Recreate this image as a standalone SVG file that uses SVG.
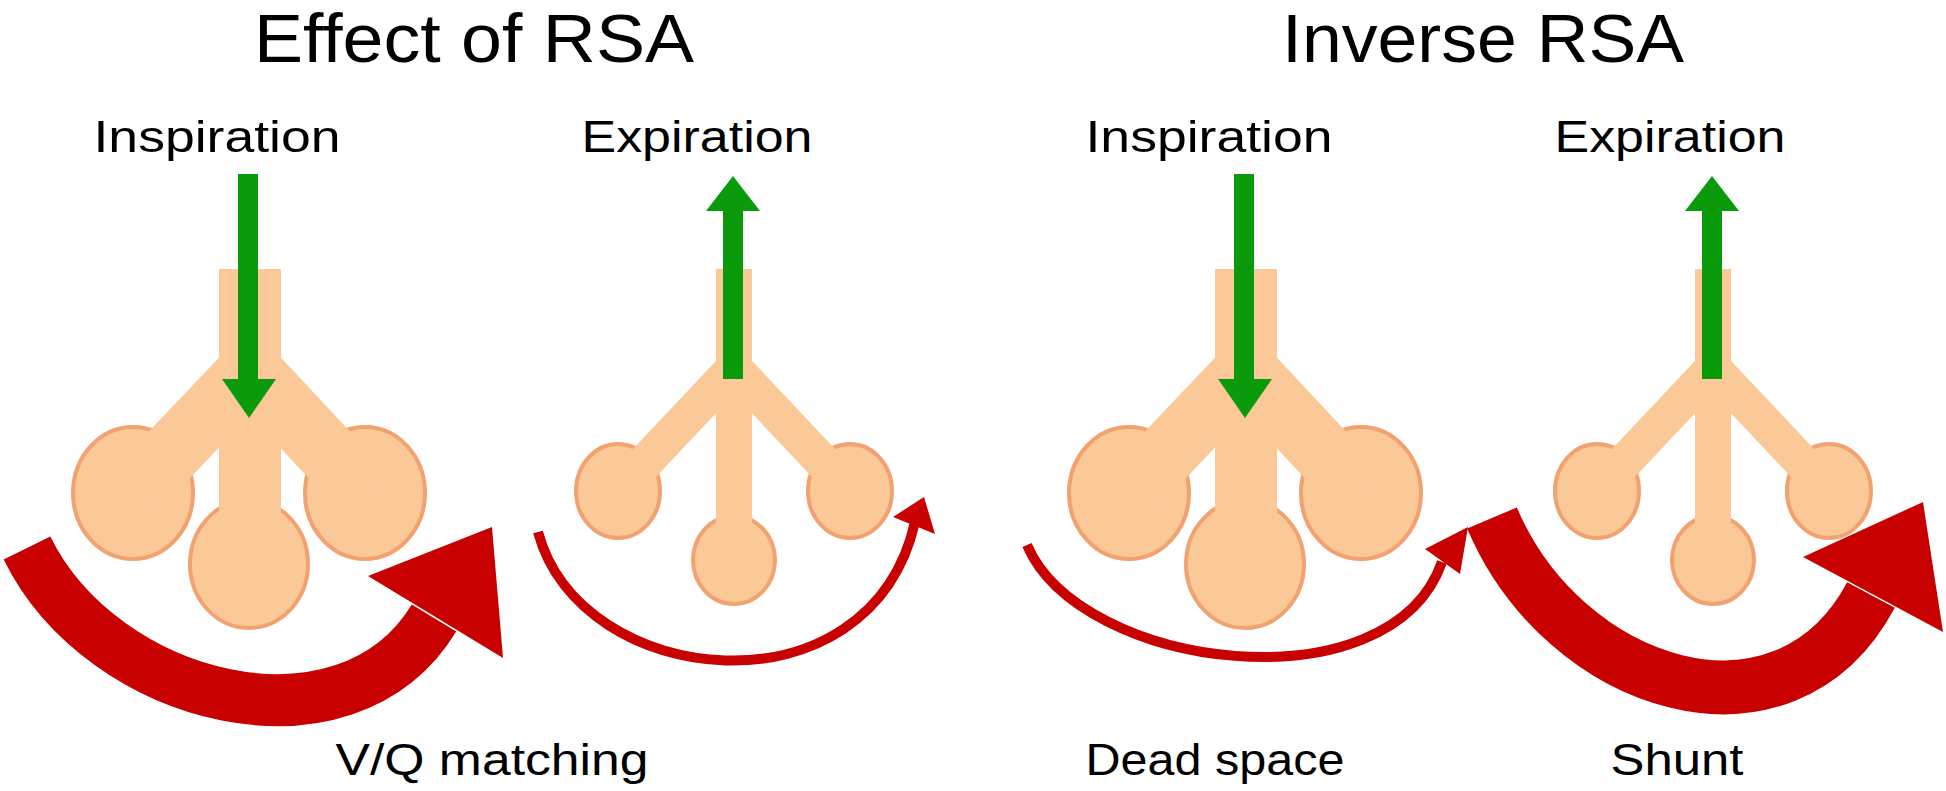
<svg xmlns="http://www.w3.org/2000/svg" width="1946" height="791" viewBox="0 0 1946 791">
<style>
text{font-family:"Liberation Sans",Arial,sans-serif;fill:#000;text-anchor:middle}
.t{font-size:68px}
.l{font-size:44px}
.alv{fill:#FBC898;stroke:#F4A170;stroke-width:4}
.br{fill:none;stroke:#FBC898;stroke-linecap:butt}
.gr{fill:#0B9A0B}
.rd{fill:#C80000}
.rs{fill:none;stroke:#C80000}
</style>
<rect width="1946" height="791" fill="#fff"/>
<g id="titles">
<text class="t" x="474" y="62" textLength="440" lengthAdjust="spacingAndGlyphs">Effect of RSA</text>
<text class="t" x="1483" y="62" textLength="402" lengthAdjust="spacingAndGlyphs">Inverse RSA</text>
</g>
<g id="labels">
<text class="l" x="217" y="152" textLength="247" lengthAdjust="spacingAndGlyphs">Inspiration</text>
<text class="l" x="697" y="152" textLength="231" lengthAdjust="spacingAndGlyphs">Expiration</text>
<text class="l" x="1209" y="152" textLength="247" lengthAdjust="spacingAndGlyphs">Inspiration</text>
<text class="l" x="1670" y="152" textLength="231" lengthAdjust="spacingAndGlyphs">Expiration</text>
<text class="l" x="492" y="775" textLength="313" lengthAdjust="spacingAndGlyphs">V/Q matching</text>
<text class="l" x="1215" y="775" textLength="259" lengthAdjust="spacingAndGlyphs">Dead space</text>
<text class="l" x="1677" y="775" textLength="133" lengthAdjust="spacingAndGlyphs">Shunt</text>
</g>
<defs>
<g id="bigLung">
<ellipse class="alv" cx="133" cy="493" rx="60" ry="66"/>
<ellipse class="alv" cx="365" cy="493" rx="60" ry="66"/>
<ellipse class="alv" cx="249" cy="564" rx="59" ry="64"/>
<path class="br" stroke-width="62" d="M250,370 L133,493 M250,370 L365,493"/>
<rect x="219" y="269" width="62" height="292" fill="#FBC898"/>
</g>
<g id="smallLung">
<ellipse class="alv" cx="618" cy="491" rx="42" ry="47"/>
<ellipse class="alv" cx="850" cy="491" rx="42" ry="47"/>
<ellipse class="alv" cx="734" cy="560" rx="41" ry="44"/>
<path class="br" stroke-width="36" d="M734,368 L618,491 M734,368 L850,491"/>
<rect x="716" y="269" width="36" height="292" fill="#FBC898"/>
</g>
</defs>
<g id="lung1"><use href="#bigLung"/></g>
<g id="lung2"><use href="#smallLung"/></g>
<g id="lung3"><use href="#bigLung" x="996"/></g>
<g id="lung4"><use href="#smallLung" x="979"/></g>
<g id="connectors">
<g id="flow1">
<path class="rs" stroke-width="52" d="M27,548 C102,701 346,763 434,618"/>
<polygon class="rd" points="368,576 492,527 503,658"/>
</g>
<g id="flow2">
<path class="rs" stroke-width="10" d="M538,532 C580,690 870,720 915,522"/>
<polygon class="rd" points="924,497 893,517 935,534"/>
</g>
<g id="flow3">
<path class="rs" stroke-width="10" d="M1027,545 C1080,670 1390,710 1442,562"/>
<polygon class="rd" points="1468,527 1425,549 1460,574"/>
</g>
<g id="flow4">
<path class="rs" stroke-width="54" d="M1492,518 C1564,688 1784,758 1871,595"/>
<polygon class="rd" points="1803,557 1923,502 1943,632"/>
</g>
<g id="air1">
<rect class="gr" x="238" y="174" width="20" height="206"/>
<polygon class="gr" points="222,379 276,379 249,418"/>
</g>
<g id="air2">
<rect class="gr" x="723" y="210" width="20" height="169"/>
<polygon class="gr" points="706,211 760,211 733,176"/>
</g>
<g id="air3">
<rect class="gr" x="1234" y="174" width="20" height="206"/>
<polygon class="gr" points="1218,379 1272,379 1245,418"/>
</g>
<g id="air4">
<rect class="gr" x="1702" y="210" width="20" height="169"/>
<polygon class="gr" points="1685,211 1739,211 1712,176"/>
</g>
</g>
</svg>
